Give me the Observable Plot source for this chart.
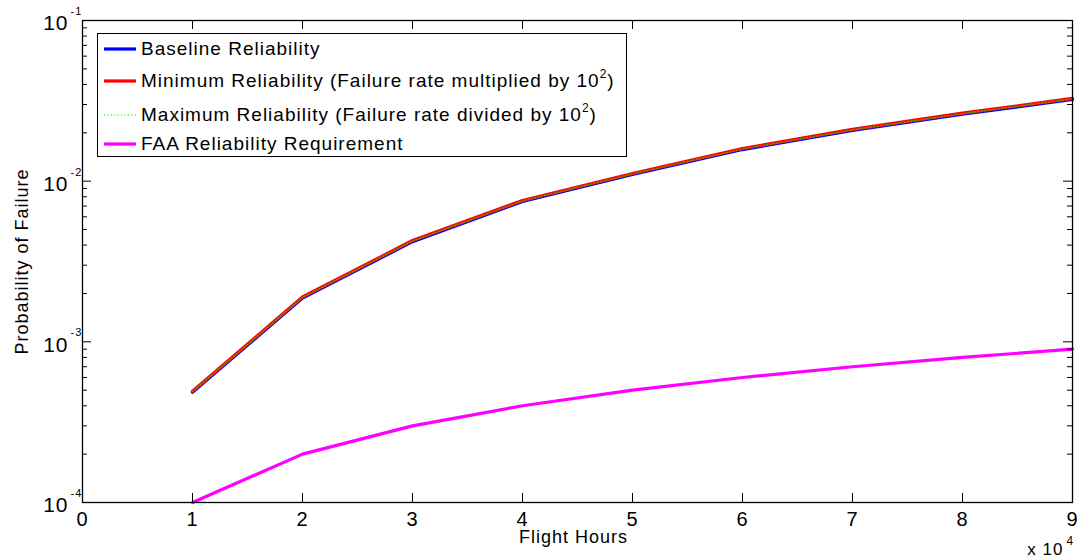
<!DOCTYPE html>
<html>
<head>
<meta charset="utf-8">
<script src="https://cdn.jsdelivr.net/npm/d3@7"></script>
<script src="https://cdn.jsdelivr.net/npm/@observablehq/plot@0.6"></script>
<style>
  body { margin: 0; background: #fff; }
  #wrap { position: relative; width: 1086px; height: 560px; font-family: "Liberation Sans", Arial, sans-serif; }
  #legend { position: absolute; left: 97px; top: 33px; width: 530px; height: 124px; border: 1.3px solid #000; background: #fff; box-sizing: border-box; }
  .row { position: absolute; left: 0; height: 30px; display: flex; align-items: center; font-size: 19px; letter-spacing: 1px; white-space: nowrap; color: #000; }
  .row svg { margin-left: 6px; margin-right: 5px; }
  sup { font-size: 12px; position: relative; top: -2px; }
</style>
</head>
<body>
<div id="wrap"></div>
<script>
// Data (x in flight hours)
const flightHours = [10000, 20000, 30000, 40000, 50000, 60000, 70000, 80000, 90000];
const baseline   = [4.86e-4, 1.87e-3, 4.20e-3, 7.47e-3, 0.01100, 0.01573, 0.02068, 0.02610, 0.03224];
const minimumRel = [4.93e-4, 1.90e-3, 4.27e-3, 7.58e-3, 0.01116, 0.01596, 0.02099, 0.02649, 0.03272];
const maximumRel = [4.90e-4, 1.89e-3, 4.24e-3, 7.53e-3, 0.01108, 0.01585, 0.02084, 0.02630, 0.03248];
const faaReq     = [1e-4, 2e-4, 3e-4, 4e-4, 5e-4, 6e-4, 7e-4, 8e-4, 9e-4];

const xTicks = [0, 10000, 20000, 30000, 40000, 50000, 60000, 70000, 80000, 90000];
const xTickLabels = ["0", "1", "2", "3", "4", "5", "6", "7", "8", "9"];
const yMajor = [1e-4, 1e-3, 1e-2, 1e-1];
const yExponents = ["-4", "-3", "-2", "-1"];
const yMinor = [2e-4,3e-4,4e-4,5e-4,6e-4,7e-4,8e-4,9e-4, 2e-3,3e-3,4e-3,5e-3,6e-3,7e-3,8e-3,9e-3, 2e-2,3e-2,4e-2,5e-2,6e-2,7e-2,8e-2,9e-2];

const W = 1086, H = 560, mL = 82, mR = 14, mT = 20, mB = 58;
const pW = W - mL - mR, pH = H - mT - mB;

const rows = (vals) => flightHours.map((h, i) => ({h, v: vals[i]}));

const chart = Plot.plot({
  width: W, height: H,
  marginLeft: mL, marginRight: mR, marginTop: mT, marginBottom: mB,
  style: { fontFamily: "Liberation Sans, Arial, sans-serif", background: "#fff" },
  x: { domain: [0, 90000], axis: null },
  y: { type: "log", domain: [1e-4, 1e-1], axis: null },
  marks: [
    Plot.line(rows(baseline), { x: "h", y: "v", stroke: "#0000ff", strokeWidth: 3.2 }),
    Plot.line(rows(minimumRel), { x: "h", y: "v", stroke: "#ff0000", strokeWidth: 3.2 }),
    Plot.line(rows(maximumRel), { x: "h", y: "v", stroke: "#00ff00", strokeOpacity: 0.55, strokeWidth: 1.6, strokeDasharray: "1.2,2.2" }),
    Plot.line(rows(faaReq), { x: "h", y: "v", stroke: "#ff00ff", strokeWidth: 3.2 }),
    Plot.frame({ stroke: "#000", strokeWidth: 1.3 }),
    Plot.ruleX(xTicks, { x: d => d, insetTop: pH - 9, stroke: "#000", strokeWidth: 1 }),
    Plot.ruleX(xTicks, { x: d => d, insetBottom: pH - 9, stroke: "#000", strokeWidth: 1 }),
    Plot.ruleY(yMajor, { y: d => d, insetRight: pW - 9, stroke: "#000", strokeWidth: 1 }),
    Plot.ruleY(yMajor, { y: d => d, insetLeft: pW - 9, stroke: "#000", strokeWidth: 1 }),
    Plot.ruleY(yMinor, { y: d => d, insetRight: pW - 5, stroke: "#000", strokeWidth: 1 }),
    Plot.ruleY(yMinor, { y: d => d, insetLeft: pW - 5, stroke: "#000", strokeWidth: 1 }),
    Plot.text(xTicks, { x: d => d, frameAnchor: "bottom", lineAnchor: "middle", dy: 17, text: (d, i) => xTickLabels[i], fontSize: 20, fill: "#000" }),
    Plot.text(yMajor, { y: d => d, frameAnchor: "left", lineAnchor: "middle", dx: -14, dy: 3, text: () => "10", textAnchor: "end", fontSize: 21, fill: "#000" }),
    Plot.text(yMajor, { y: d => d, frameAnchor: "left", lineAnchor: "middle", dx: -12, dy: -9, text: (d, i) => yExponents[i], textAnchor: "start", fontSize: 11, fill: "#000" }),
    Plot.text(["Flight Hours"], { frameAnchor: "bottom", lineAnchor: "middle", textAnchor: "middle", dx: -4, dy: 35, text: d => d, fontSize: 18, fill: "#000" }),
    Plot.text(["Probability of Failure"], { frameAnchor: "left", lineAnchor: "middle", textAnchor: "middle", dx: -60, rotate: -90, text: d => d, fontSize: 18, fill: "#000" }),
    Plot.text(["x 10"], { frameAnchor: "bottom-right", lineAnchor: "middle", dx: -9, dy: 47, text: d => d, textAnchor: "end", fontSize: 17, fill: "#000" }),
    Plot.text(["4"], { frameAnchor: "bottom-right", lineAnchor: "middle", dx: -6, dy: 39, text: d => d, textAnchor: "start", fontSize: 12, fill: "#000" })
  ]
});

chart.querySelectorAll("text").forEach(t => {
  const fs = parseFloat(t.getAttribute("font-size") || "0");
  t.style.letterSpacing = fs && fs < 13 ? "0px" : "1px";
});

const wrap = document.getElementById("wrap");
wrap.appendChild(chart);

const legendItems = [
  { label: "Baseline Reliability", color: "#0000ff", width: 3.2, dash: null, op: 1, top: 0 },
  { label: "Minimum Reliability (Failure rate multiplied by 10<sup>2</sup>)", color: "#ff0000", width: 3.2, dash: null, op: 1, top: 32 },
  { label: "Maximum Reliability (Failure rate divided by 10<sup>2</sup>)", color: "#00ff00", width: 1.8, dash: "1.2,2.2", op: 0.55, top: 66 },
  { label: "FAA Reliability Requirement", color: "#ff00ff", width: 3.2, dash: null, op: 1, top: 95 }
];
const legend = document.createElement("div");
legend.id = "legend";
legendItems.forEach((it) => {
  const row = document.createElement("div");
  row.className = "row";
  row.style.top = it.top + "px";
  row.innerHTML = `<svg width="32" height="10"><line x1="0" y1="5" x2="32" y2="5" stroke="${it.color}" stroke-opacity="${it.op}" stroke-width="${it.width}" ${it.dash ? `stroke-dasharray="${it.dash}"` : ""}/></svg><span>${it.label}</span>`;
  legend.appendChild(row);
});
wrap.appendChild(legend);
</script>
</body>
</html>
